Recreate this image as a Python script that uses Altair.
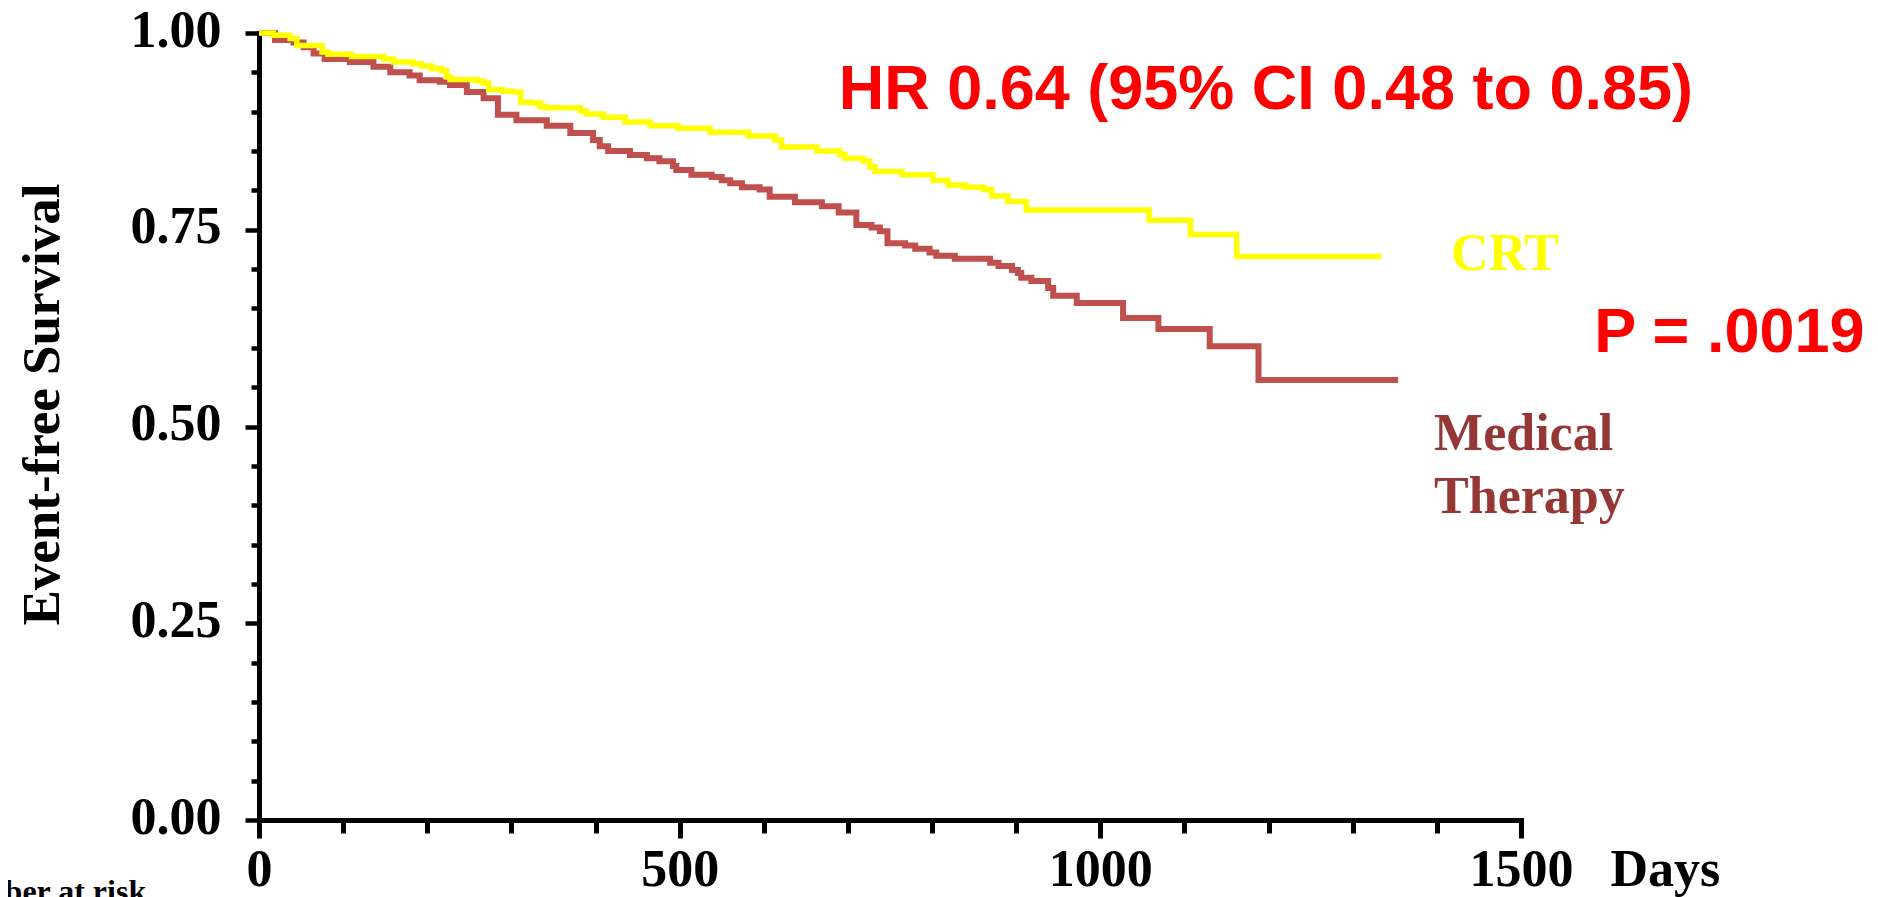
import altair as alt
import pandas as pd

# ---- Kaplan-Meier step data ----
crt_days = [0, 17, 37, 45, 75, 82, 110, 148, 160, 183, 193, 205, 217, 223, 227, 259, 267, 273, 290, 302,
            311, 324, 334, 340, 382, 389, 409, 435, 465, 498, 536, 582, 613, 621, 663, 690, 696, 718, 726, 732,
            764, 801, 819, 839, 861, 871, 890, 912, 1058, 1107, 1162, 1334]
crt_surv = [1.0, 0.997, 0.993, 0.984, 0.976, 0.973, 0.970, 0.967, 0.963, 0.961, 0.958, 0.955, 0.952, 0.944,
            0.941, 0.939, 0.936, 0.928, 0.926, 0.925, 0.912, 0.911, 0.907, 0.905, 0.901, 0.897, 0.893, 0.887,
            0.882, 0.879, 0.874, 0.869, 0.864, 0.855, 0.850, 0.846, 0.841, 0.837, 0.830, 0.824, 0.820, 0.813,
            0.807, 0.804, 0.801, 0.793, 0.786, 0.775, 0.762, 0.744, 0.716, 0.716]

med_days = [0, 19, 41, 53, 65, 78, 108, 136, 156, 179, 191, 215, 227, 247, 267, 284, 306, 342, 370, 397,
            405, 415, 441, 461, 476, 492, 496, 514, 538, 550, 560, 574, 595, 607, 637, 669, 689, 710, 728, 738,
            747, 768, 780, 797, 805, 827, 869, 879, 895, 902, 906, 918, 938, 944, 972, 1027, 1069, 1130, 1188, 1354]
med_surv = [1.0, 0.991, 0.988, 0.982, 0.974, 0.967, 0.963, 0.957, 0.950, 0.946, 0.940, 0.938, 0.934, 0.925,
            0.917, 0.896, 0.889, 0.882, 0.873, 0.864, 0.856, 0.850, 0.845, 0.841, 0.837, 0.831, 0.826, 0.820,
            0.817, 0.813, 0.809, 0.804, 0.801, 0.792, 0.785, 0.780, 0.772, 0.756, 0.753, 0.748, 0.733, 0.730,
            0.726, 0.721, 0.717, 0.713, 0.708, 0.704, 0.699, 0.695, 0.689, 0.685, 0.676, 0.666, 0.657, 0.638,
            0.624, 0.602, 0.559, 0.559]

# ---- ticks ----
x_tick_values = [0, 100, 200, 300, 400, 500, 600, 700, 800, 900, 1000, 1100, 1200, 1300, 1400, 1500]
y_tick_values = [0.0, 0.05, 0.10, 0.15, 0.20, 0.25, 0.30, 0.35, 0.40, 0.45, 0.50,
                 0.55, 0.60, 0.65, 0.70, 0.75, 0.80, 0.85, 0.90, 0.95, 1.0]

# ---- annotations (in data coordinates) ----
stat_text = ["HR 0.64 (95% CI 0.48 to 0.85)", "P = .0019"]
stat_x = [689.0, 1587.0]
stat_y = [0.904, 0.595]

crt_label = ["CRT"]
crt_label_x = [1416.9]
crt_label_y = [0.699]

med_label = ["Medical", "Therapy"]
med_label_x = [1396.7, 1396.7]
med_label_y = [0.470, 0.390]

risk_text = ["Number at risk"]
risk_x = [-382.7]
risk_y = [-0.104]

crt_df = pd.DataFrame({"days": crt_days, "surv": crt_surv})
med_df = pd.DataFrame({"days": med_days, "surv": med_surv})

serif = "Liberation Serif"
sans = "Liberation Sans"

xscale = alt.Scale(domain=[0, 1500], nice=False, zero=False)
yscale = alt.Scale(domain=[0, 1], nice=False, zero=False)

xaxis = alt.Axis(
    values=x_tick_values,
    format="d",
    labelExpr="datum.value % 500 === 0 ? datum.label : ''",
    tickSize={"condition": {"test": "datum.value % 500 === 0", "value": 18}, "value": 13},
    tickWidth=5, tickColor="black",
    domainWidth=5, domainColor="black", domainCap="square",
    labelFont=serif, labelFontWeight="bold", labelFontSize=52, labelColor="black",
    labelPadding=6, labelFlush=False, labelOverlap=False, labelBound=False,
    grid=False,
    title="Days", titleFont=serif, titleFontWeight="bold", titleFontSize=52, titleColor="black",
    titleX=1351, titleY=65, titleAlign="left", titleBaseline="alphabetic", titleAngle=0,
)
yaxis = alt.Axis(
    values=y_tick_values,
    format=".2f",
    labelExpr="abs(datum.value * 4 - round(datum.value * 4)) < 0.001 ? datum.label : ''",
    tickSize={"condition": {"test": "abs(datum.value * 4 - round(datum.value * 4)) < 0.001", "value": 14}, "value": 8},
    tickWidth=4.5, tickColor="black",
    domainWidth=5, domainColor="black", domainCap="square",
    labelFont=serif, labelFontWeight="bold", labelFontSize=52, labelColor="black",
    labelPadding=24, labelFlush=False, labelOverlap=False, labelBound=False, labelOffset=-3,
    grid=False,
    title="Event-free Survival", titleFont=serif, titleFontWeight="bold", titleFontSize=53,
    titleColor="black", titleX=-201, titleY=371, titleAngle=-90, titleAlign="center",
    titleBaseline="alphabetic",
)

X = alt.X("days:Q", scale=xscale, axis=xaxis)
Y = alt.Y("surv:Q", scale=yscale, axis=yaxis)

med_line = alt.Chart(med_df).mark_line(
    interpolate="step-after", color="#C0504D", strokeCap="butt", strokeJoin="miter"
).encode(x=X, y=Y, strokeWidth=alt.value(6))

crt_line = alt.Chart(crt_df).mark_line(
    interpolate="step-after", color="#FFFF00", strokeCap="butt", strokeJoin="miter"
).encode(x=X, y=Y, strokeWidth=alt.value(5.5))

stat_layer = alt.Chart(pd.DataFrame({"days": stat_x, "surv": stat_y, "t": stat_text})).mark_text(
    align="left", baseline="alphabetic", font=sans, fontWeight="bold", fontSize=63, color="#FF0000"
).encode(x=X, y=Y, text="t:N")

crt_text = alt.Chart(pd.DataFrame({"days": crt_label_x, "surv": crt_label_y, "t": crt_label})).mark_text(
    align="left", baseline="alphabetic", font=serif, fontWeight="bold", fontSize=52, color="#FFFF00"
).encode(x=X, y=Y, text="t:N")

med_text = alt.Chart(pd.DataFrame({"days": med_label_x, "surv": med_label_y, "t": med_label})).mark_text(
    align="left", baseline="alphabetic", font=serif, fontWeight="bold", fontSize=52, color="#953735"
).encode(x=X, y=Y, text="t:N")

risk_layer = alt.Chart(pd.DataFrame({"days": risk_x, "surv": risk_y, "t": risk_text})).mark_text(
    align="left", baseline="alphabetic", font=serif, fontWeight="bold", fontSize=32, color="black"
).encode(x=X, y=Y, text="t:N")

chart = alt.layer(med_line, crt_line, stat_layer, crt_text, med_text, risk_layer).properties(
    width=1262, height=787,
    padding={"left": 251, "top": 25, "right": 349, "bottom": 100},
    autosize=alt.AutoSizeParams(type="none"),
    background="white",
).configure_view(stroke=None)

chart.save("out.html", embed_options={"renderer": "svg", "actions": False})
